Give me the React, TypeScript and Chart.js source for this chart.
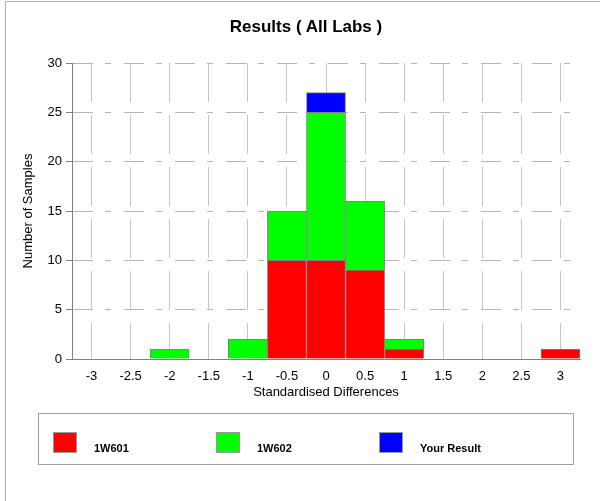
import React, { useEffect, useRef } from "react";
import { Chart, registerables } from "chart.js";

Chart.register(...registerables);

const categories = ["-3", "-2.5", "-2", "-1.5", "-1", "-0.5", "0", "0.5", "1", "1.5", "2", "2.5", "3"];
const series1W601 = [0, 0, 0, 0, 0, 10, 10, 9, 1, 0, 0, 0, 1];
const series1W602 = [0, 0, 1, 0, 2, 5, 15, 7, 1, 0, 0, 0, 0];
const seriesYourResult = [0, 0, 0, 0, 0, 0, 2, 0, 0, 0, 0, 0, 0];
const yMin = 0;
const yMax = 30;
const yStep = 5;
const legendLabels = ["1W601", "1W602", "Your Result"];
const seriesColors = ["#ff0000", "#00ff00", "#0000ff"];

const FONT = "Arial, 'Liberation Sans', sans-serif";

export default function App() {
  const canvasRef = useRef<HTMLCanvasElement | null>(null);

  useEffect(() => {
    const canvas = canvasRef.current;
    if (!canvas) return;
    const chart = new Chart(canvas, {
      type: "bar",
      data: {
        labels: categories,
        datasets: [
          { label: legendLabels[0], data: series1W601, backgroundColor: seriesColors[0], borderColor: "#808080", borderWidth: 1 },
          { label: legendLabels[1], data: series1W602, backgroundColor: seriesColors[1], borderColor: "#808080", borderWidth: 1 },
          { label: legendLabels[2], data: seriesYourResult, backgroundColor: seriesColors[2], borderColor: "#808080", borderWidth: 1 },
        ],
      },
      options: {
        responsive: false,
        animation: false,
        devicePixelRatio: 1,
        layout: { padding: { left: 0, right: 20, top: 63, bottom: 97 } },
        datasets: { bar: { barPercentage: 1, categoryPercentage: 1 } },
        plugins: {
          legend: { display: false },
          title: { display: false },
          tooltip: { enabled: false },
        },
        scales: {
          x: {
            stacked: true,
            offset: true,
            grid: { offset: false, drawTicks: false, color: "#c4c4c4", lineWidth: 1 },
            border: { display: true, color: "#808080", width: 1, dash: [39, 13] },
            ticks: { color: "#000", font: { family: FONT, size: 13 }, padding: 10, maxRotation: 0, autoSkip: false },
            title: { display: true, text: "Standardised Differences", color: "#000", font: { family: FONT, size: 13 }, padding: { top: 0, bottom: 4 } },
            afterFit: (scale: any) => { scale.height = 45; },
          },
          y: {
            stacked: true,
            min: yMin,
            max: yMax,
            grid: { color: "#b4b4b4", lineWidth: 1, drawTicks: true, tickLength: 6, tickColor: "#808080", tickWidth: 1 },
            border: { display: true, color: "#808080", width: 1, dash: [20, 12, 6, 13] },
            ticks: { stepSize: yStep, color: "#000", font: { family: FONT, size: 13 }, padding: 4 },
            title: { display: true, text: "Number of Samples", color: "#000", font: { family: FONT, size: 13 }, padding: { top: 21, bottom: 0 } },
            afterFit: (scale: any) => { scale.width = 72; },
          },
        },
      },
    });
    return () => chart.destroy();
  }, []);

  const legendX = [53, 216, 379];

  return (
    <div style={{ position: "absolute", left: 0, top: 0, width: 600, height: 501, background: "#fff", overflow: "hidden", fontFamily: FONT }}>
      <div style={{ position: "absolute", left: 5, top: 1, width: 600, height: 520, borderLeft: "1px solid #b0b0b0", borderTop: "1px solid #b0b0b0" }} />
      <canvas ref={canvasRef} width={600} height={501} style={{ position: "absolute", left: 0, top: 0, width: 600, height: 501, display: "block" }} />
      <div style={{ position: "absolute", left: 6, top: 17, width: 600, textAlign: "center", fontWeight: "bold", fontSize: 17, lineHeight: "20px", color: "#000" }}>
        Results ( All Labs )
      </div>
      <div style={{ position: "absolute", left: 38, top: 413, width: 536, height: 52, boxSizing: "border-box", border: "1px solid #a0a0a0" }} />
      {legendLabels.map((lab, i) => (
        <React.Fragment key={lab}>
          <div style={{ position: "absolute", left: legendX[i], top: 432, width: 24, height: 21, boxSizing: "border-box", border: "1px solid #999", background: seriesColors[i] }} />
          <div style={{ position: "absolute", left: legendX[i] + 41, top: 442, fontSize: 11, fontWeight: "bold", lineHeight: "13px", color: "#000", whiteSpace: "nowrap" }}>
            {lab}
          </div>
        </React.Fragment>
      ))}
    </div>
  );
}
